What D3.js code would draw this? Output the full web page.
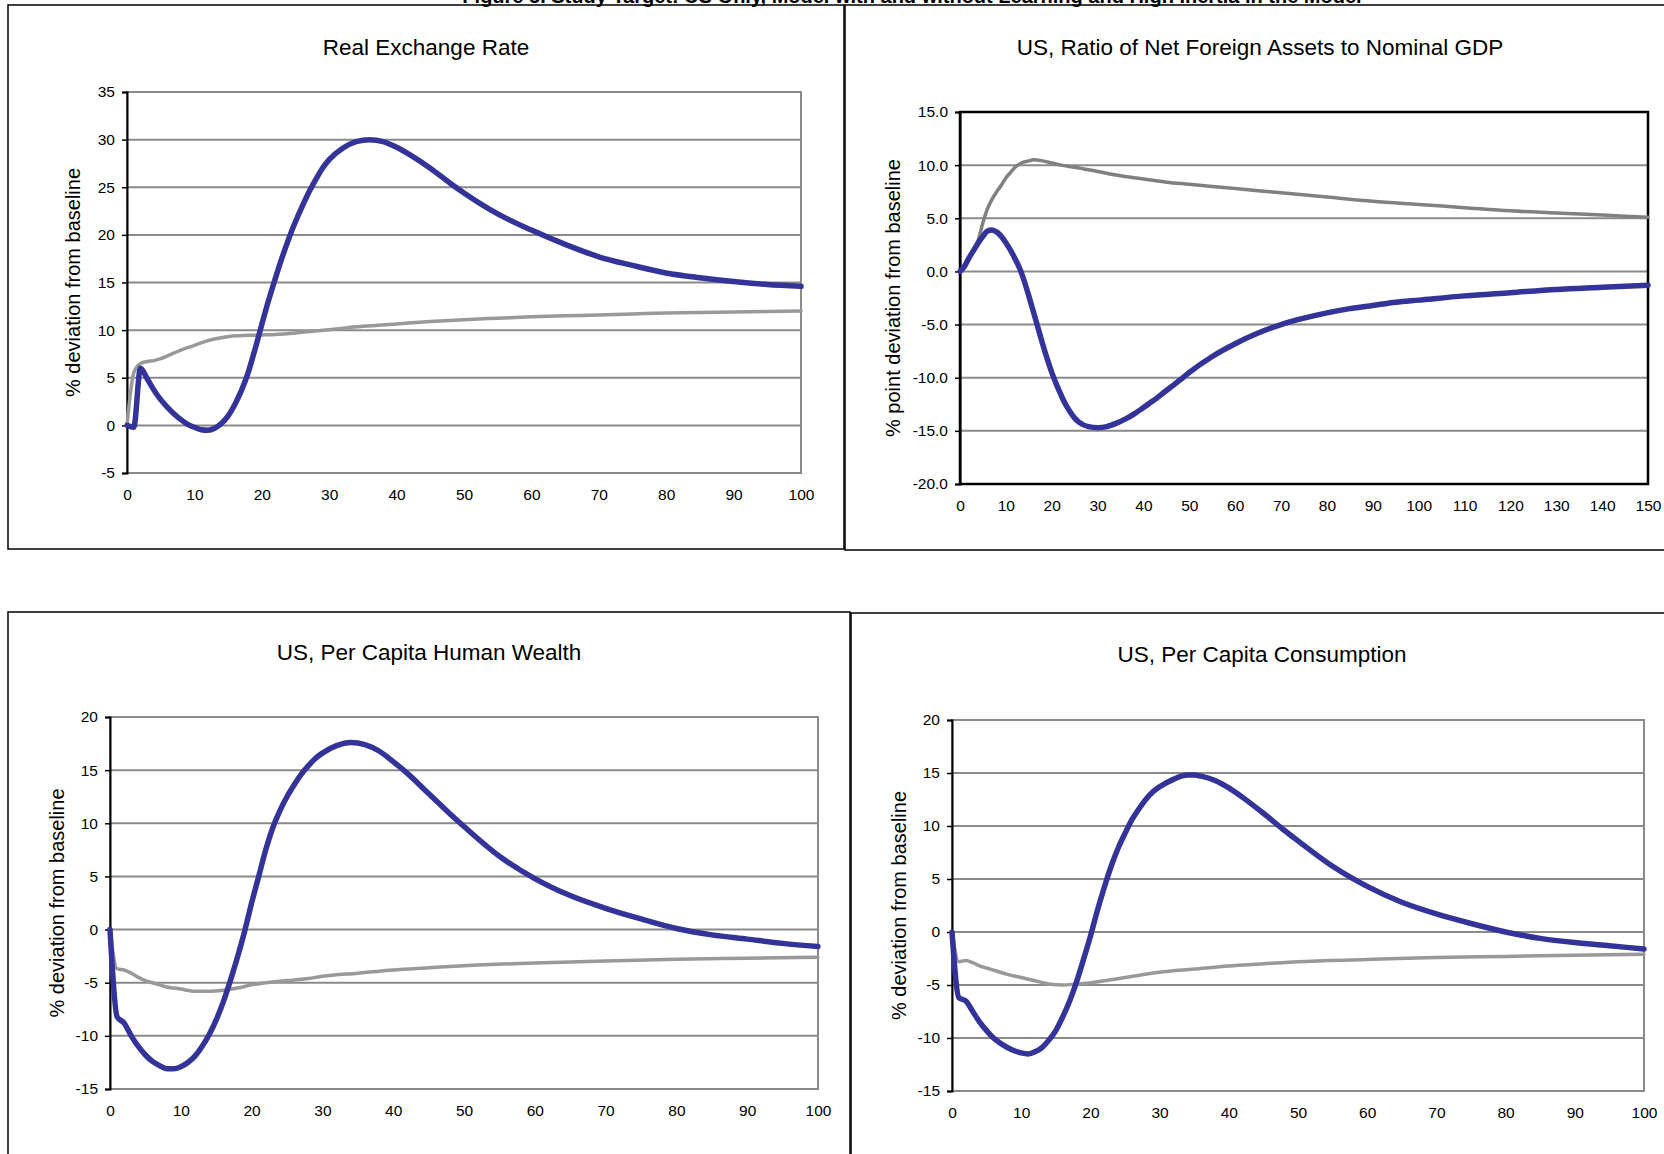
<!DOCTYPE html>
<html><head><meta charset="utf-8">
<script src="https://cdn.jsdelivr.net/npm/d3@7"></script>
<style>
html,body{margin:0;padding:0;background:#fff;}
svg{display:block;font-family:"Liberation Sans",Arial,sans-serif;}
</style></head>
<body>
<svg id="c" width="1664" height="1154"></svg>
<script>
// ---------- Data ----------
const figureTitle = "Figure 5. Study Target: US Only, Model with and without Learning and High Inertia in the Model";
const panelTitles = ["Real Exchange Rate", "US, Ratio of Net Foreign Assets to Nominal GDP", "US, Per Capita Human Wealth", "US, Per Capita Consumption"];
const yAxisTitles = ["% deviation from baseline", "% point deviation from baseline", "% deviation from baseline", "% deviation from baseline"];

// Panel 1: Real Exchange Rate
const rerBlueT = [0,1,2,3,4,5,6,7,8,9,10,11,12,13,14,15,16,17,18,19,20,21,22,23,24,25,26,27,28,29,30,32,34,36,38,40,42,45,48,50,55,60,65,70,75,80,85,90,95,100];
const rerBlueV = [0,-0.2,6.0,4.9,3.7,2.7,1.9,1.2,0.6,0.1,-0.2,-0.45,-0.5,-0.3,0.2,1.0,2.2,3.7,5.6,8.0,10.6,13.1,15.4,17.6,19.6,21.4,23.0,24.5,25.8,27.0,27.9,29.1,29.8,30.0,29.8,29.2,28.4,27.0,25.4,24.4,22.2,20.5,19.0,17.7,16.8,16.0,15.5,15.1,14.8,14.6];
const rerGrayT = [0,1,2,3,4,5,6,7,8,10,12,14,16,18,20,22,25,28,30,35,40,45,50,55,60,65,70,75,80,85,90,95,100];
const rerGrayV = [0,5.5,6.5,6.7,6.8,7.0,7.3,7.6,7.9,8.4,8.9,9.2,9.4,9.45,9.5,9.55,9.7,9.9,10.05,10.4,10.65,10.9,11.1,11.25,11.4,11.5,11.6,11.7,11.8,11.85,11.9,11.95,12.0];

// Panel 2: Net Foreign Assets / GDP
const nfaBlueT = [0,1,2,3,4,5,6,7,8,9,10,11,12,13,14,15,16,17,18,19,20,21,22,23,24,25,26,28,30,32,34,36,38,40,42,45,48,50,55,60,65,70,75,80,85,90,95,100,110,120,130,140,150];
const nfaBlueV = [0,0.5,1.3,2.0,2.7,3.3,3.8,3.9,3.7,3.3,2.7,2.0,1.2,0.3,-0.9,-2.3,-3.8,-5.3,-6.8,-8.2,-9.5,-10.6,-11.6,-12.5,-13.2,-13.8,-14.2,-14.6,-14.7,-14.6,-14.3,-13.9,-13.4,-12.8,-12.2,-11.2,-10.2,-9.5,-8.0,-6.8,-5.8,-5.0,-4.4,-3.9,-3.5,-3.2,-2.9,-2.7,-2.3,-2.0,-1.7,-1.5,-1.3];
const nfaGrayT = [0,1,2,3,4,5,6,7,8,9,10,11,12,13,14,15,16,18,20,22,25,30,35,40,45,50,60,70,80,90,100,110,120,130,140,150];
const nfaGrayV = [0,0.5,1.3,2.1,3.0,4.6,5.9,6.8,7.5,8.1,8.8,9.3,9.8,10.1,10.3,10.4,10.5,10.4,10.2,10.0,9.8,9.4,9.0,8.7,8.4,8.2,7.8,7.4,7.0,6.6,6.3,6.0,5.7,5.5,5.3,5.1];

// Panel 3: Per Capita Human Wealth
const hwBlueT = [0,1,2,3,4,5,6,7,8,9,10,11,12,13,14,15,16,17,18,19,20,21,22,23,24,25,26,27,28,29,30,32,34,36,38,40,42,45,48,50,55,60,65,70,75,80,85,90,95,100];
const hwBlueV = [0,-8.2,-8.8,-10.0,-11.0,-11.8,-12.4,-12.8,-13.1,-13.1,-12.9,-12.5,-11.9,-11.0,-9.9,-8.5,-6.8,-4.8,-2.6,-0.2,2.5,5.0,7.5,9.6,11.2,12.5,13.6,14.6,15.4,16.1,16.6,17.3,17.6,17.4,16.8,15.8,14.7,12.8,10.9,9.7,6.9,4.8,3.2,2.0,1.0,0.1,-0.5,-0.9,-1.3,-1.6];
const hwGrayT = [0,1,2,3,4,5,6,7,8,9,10,12,14,16,18,20,22,25,28,30,35,40,45,50,60,70,80,90,100];
const hwGrayV = [0,-3.7,-3.8,-4.1,-4.5,-4.8,-5.0,-5.2,-5.4,-5.5,-5.6,-5.8,-5.8,-5.7,-5.5,-5.2,-5.0,-4.8,-4.6,-4.4,-4.1,-3.8,-3.6,-3.4,-3.15,-2.95,-2.8,-2.7,-2.6];

// Panel 4: Per Capita Consumption
const conBlueT = [0,1,2,3,4,5,6,7,8,9,10,11,12,13,14,15,16,17,18,19,20,21,22,23,24,25,26,27,28,29,30,32,34,35,36,38,40,42,45,48,50,55,60,65,70,75,80,85,90,95,100];
const conBlueV = [0,-6.2,-6.5,-7.5,-8.5,-9.3,-10.0,-10.5,-10.9,-11.2,-11.4,-11.5,-11.3,-10.9,-10.2,-9.3,-8.0,-6.5,-4.7,-2.6,-0.4,2.0,4.2,6.2,7.9,9.3,10.6,11.6,12.5,13.2,13.7,14.4,14.8,14.8,14.7,14.3,13.6,12.7,11.2,9.6,8.6,6.2,4.3,2.8,1.7,0.8,0.0,-0.6,-1.0,-1.3,-1.6];
const conGrayT = [0,1,2,3,4,5,6,7,8,10,12,14,16,18,20,22,25,30,35,40,45,50,60,70,80,90,100];
const conGrayV = [0,-2.8,-2.7,-2.9,-3.2,-3.4,-3.6,-3.8,-4.0,-4.3,-4.6,-4.9,-5.0,-4.9,-4.8,-4.6,-4.3,-3.8,-3.5,-3.2,-3.0,-2.8,-2.6,-2.4,-2.3,-2.2,-2.1];

// Tick values
const xTicks100 = [0,10,20,30,40,50,60,70,80,90,100];
const xTicks150 = [0,10,20,30,40,50,60,70,80,90,100,110,120,130,140,150];
const yTicksRer = [-5,0,5,10,15,20,25,30,35];
const yTicksNfa = [-20,-15,-10,-5,0,5,10,15];
const yTicksHw = [-15,-10,-5,0,5,10,15,20];
const yTicksCon = [-15,-10,-5,0,5,10,15,20];

// ---------- Layout ----------
const svg = d3.select("#c");
const BLUE = "#333399";
const hy = f => (v => f(v).replace("\u2212", "-"));

// figure title (cut off at top, as in the source page)
svg.append("text").attr("x", 912).attr("y", 2.5).attr("text-anchor", "middle")
  .attr("font-size", 20).attr("font-weight", "bold").attr("fill", "#000").text(figureTitle);

// panel frames
const frames = [
  {x: 8, y: 5, w: 836, h: 544},
  {x: 845, y: 5, w: 840, h: 545},
  {x: 8, y: 612, w: 842, h: 600},
  {x: 851, y: 613, w: 840, h: 600}
];
frames.forEach(f => svg.append("rect").attr("x", f.x).attr("y", f.y).attr("width", f.w).attr("height", f.h)
  .attr("fill", "none").attr("stroke", "#000").attr("stroke-width", 1.5));

const panels = [
  {title: panelTitles[0], ytitle: yAxisTitles[0], tx: 426, ty: 47, ylx: 73,
   l: 127, r: 801, t: 92, b: 473, xmax: 100, xt: xTicks100, yd: [-5, 35], yt: yTicksRer, fmt: hy(d3.format("d")),
   border: "#8a8a8a", borderW: 2, grayCol: "#999999",
   series: [{t: rerGrayT, v: rerGrayV, gray: true}, {t: rerBlueT, v: rerBlueV}]},
  {title: panelTitles[1], ytitle: yAxisTitles[1], tx: 1260, ty: 47, ylx: 893,
   l: 960, r: 1648, t: 112, b: 484, xmax: 150, xt: xTicks150, yd: [-20, 15], yt: yTicksNfa, fmt: hy(d3.format(".1f")),
   border: "#000", borderW: 2.5, grayCol: "#808080",
   series: [{t: nfaGrayT, v: nfaGrayV, gray: true}, {t: nfaBlueT, v: nfaBlueV}]},
  {title: panelTitles[2], ytitle: yAxisTitles[2], tx: 429, ty: 652, ylx: 57,
   l: 110, r: 818, t: 717, b: 1089, xmax: 100, xt: xTicks100, yd: [-15, 20], yt: yTicksHw, fmt: hy(d3.format("d")),
   border: "#8a8a8a", borderW: 2, grayCol: "#999999",
   series: [{t: hwGrayT, v: hwGrayV, gray: true}, {t: hwBlueT, v: hwBlueV}]},
  {title: panelTitles[3], ytitle: yAxisTitles[3], tx: 1262, ty: 654, ylx: 899,
   l: 952, r: 1644, t: 720, b: 1091, xmax: 100, xt: xTicks100, yd: [-15, 20], yt: yTicksCon, fmt: hy(d3.format("d")),
   border: "#8a8a8a", borderW: 2, grayCol: "#999999",
   series: [{t: conGrayT, v: conGrayV, gray: true}, {t: conBlueT, v: conBlueV}]}
];

panels.forEach(p => {
  const g = svg.append("g");
  const x = d3.scaleLinear().domain([0, p.xmax]).range([p.l, p.r]);
  const y = d3.scaleLinear().domain(p.yd).range([p.b, p.t]);

  // title
  g.append("text").attr("x", p.tx).attr("y", p.ty).attr("dy", "0.35em").attr("text-anchor", "middle")
    .attr("font-size", 22.5).attr("fill", "#000").text(p.title);

  // gridlines
  g.append("g").selectAll("line").data(p.yt).join("line")
    .attr("x1", p.l).attr("x2", p.r).attr("y1", d => y(d)).attr("y2", d => y(d))
    .attr("stroke", "#8a8a8a").attr("stroke-width", 2);

  // plot border
  g.append("rect").attr("x", p.l).attr("y", p.t).attr("width", p.r - p.l).attr("height", p.b - p.t)
    .attr("fill", "none").attr("stroke", p.border).attr("stroke-width", p.borderW);

  // y axis
  const ya = d3.axisLeft(y).tickValues(p.yt).tickFormat(p.fmt).tickSize(5).tickPadding(7);
  const yg = g.append("g").attr("transform", `translate(${p.l},0)`).call(ya);
  yg.select(".domain").attr("stroke", "#000").attr("stroke-width", 2);
  yg.selectAll(".tick line").attr("stroke", "#000").attr("stroke-width", 1.5);
  yg.selectAll("text").attr("font-size", 15.5).attr("font-family", "'Liberation Sans',Arial,sans-serif").attr("fill", "#000");

  // x axis labels
  const xa = d3.axisBottom(x).tickValues(p.xt).tickFormat(d3.format("d")).tickSize(0).tickPadding(16);
  const xg = g.append("g").attr("transform", `translate(0,${p.b})`).call(xa);
  xg.select(".domain").remove();
  xg.selectAll("text").attr("font-size", 15.5).attr("font-family", "'Liberation Sans',Arial,sans-serif").attr("fill", "#000");

  // y axis title
  g.append("text").attr("transform", `translate(${p.ylx},${(p.t + p.b) / 2}) rotate(-90)`)
    .attr("text-anchor", "middle").attr("dy", "0.35em").attr("font-size", 20).attr("fill", "#000").text(p.ytitle);

  // series
  const line = d3.line().x(d => x(d[0])).y(d => y(d[1])).curve(d3.curveMonotoneX);
  p.series.forEach(s => {
    const pts = s.t.map((t, i) => [t, s.v[i]]);
    g.append("path").attr("d", line(pts)).attr("fill", "none")
      .attr("stroke", s.gray ? p.grayCol : BLUE)
      .attr("stroke-width", s.gray ? 3.5 : 5.5)
      .attr("stroke-linejoin", "round").attr("stroke-linecap", "round");
  });
});
</script>
</body></html>
